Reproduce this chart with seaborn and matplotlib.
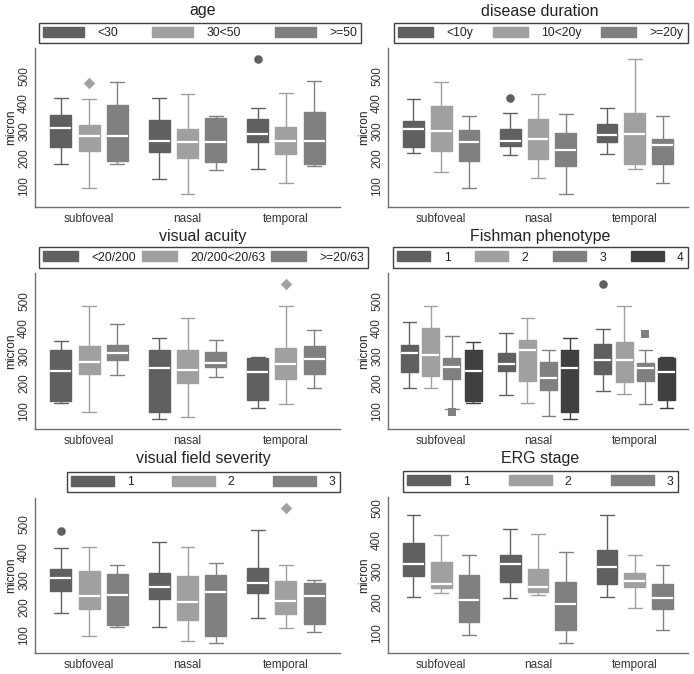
import matplotlib
matplotlib.use("Agg")
import matplotlib.pyplot as plt
from matplotlib.patches import Patch
import pandas as pd
import seaborn as sns

W, H = 694, 674

LOCATIONS = ["subfoveal", "nasal", "temporal"]
GRAYS = ["#606060", "#a0a0a0", "#808080", "#404040"]
MARKERS = ["o", "D", "s", "^"]
MARKER_SIZES = [38, 34, 30, 30]

# box stats: one row per group, columns follow LOCATIONS
AGE_LEVELS = ["<30", "30<50", ">=50"]
AGE_LO = [[181, 128, 161], [95, 72, 113], [181, 157, 172]]
AGE_Q1 = [[241, 224, 259], [228, 201, 217], [191, 187, 179]]
AGE_MED = [[312, 265, 289], [283, 261, 263], [281, 261, 265]]
AGE_Q3 = [[357, 341, 345], [320, 307, 313], [393, 348, 370]]
AGE_HI = [[420, 420, 382], [416, 433, 437], [478, 353, 480]]
AGE_OUT = [("temporal", "<30", 559), ("subfoveal", "30<50", 475)]

DUR_LEVELS = ["<10y", "10<20y", ">=20y"]
DUR_LO = [[219, 212, 216], [153, 129, 161], [95, 72, 113]]
DUR_Q1 = [[243, 246, 260], [229, 198, 182], [191, 172, 179]]
DUR_MED = [[307, 265, 286], [299, 271, 288], [261, 232, 248]]
DUR_Q3 = [[335, 307, 325], [392, 343, 366], [302, 294, 272]]
DUR_HI = [[414, 366, 382], [478, 433, 559], [353, 360, 354]]
DUR_OUT = [("nasal", "<10y", 420)]

VA_LEVELS = ["<20/200", "20/200<20/63", ">=20/63"]
VA_LO = [[129, 72, 112], [98, 79, 125], [230, 224, 182]]
VA_Q1 = [[136, 98, 140], [235, 200, 215], [285, 260, 234]]
VA_MED = [[245, 257, 241], [279, 250, 272], [311, 275, 289]]
VA_Q3 = [[321, 320, 291], [336, 320, 327], [339, 315, 334]]
VA_HI = [[353, 363, 296], [479, 436, 481], [417, 356, 395]]
VA_OUT = [("temporal", "20/200<20/63", 560)]

FISH_LEVELS = ["1", "2", "3", "4"]
FISH_LO = [[182, 157, 171], [182, 129, 163], [108, 81, 125], [129, 72, 112]]
FISH_Q1 = [[240, 244, 234], [228, 208, 205], [216, 177, 210], [136, 98, 140]]
FISH_MED = [[309, 269, 286], [303, 320, 285], [260, 220, 257], [246, 255, 243]]
FISH_Q3 = [[339, 309, 344], [402, 359, 349], [293, 279, 275], [321, 320, 291]]
FISH_HI = [[421, 383, 396], [479, 436, 481], [373, 320, 320], [350, 363, 296]]
FISH_OUT = [("temporal", "1", 560), ("subfoveal", "3", 95), ("temporal", "3", 378)]

VF_LEVELS = ["1", "2", "3"]
VF_LO = [[179, 129, 161], [95, 79, 125], [129, 71, 112]]
VF_Q1 = [[259, 232, 253], [193, 155, 177], [136, 98, 141]]
VF_MED = [[305, 273, 287], [241, 220, 225], [245, 255, 242]]
VF_Q3 = [[340, 324, 343], [330, 312, 294], [320, 318, 290]]
VF_HI = [[414, 435, 480], [420, 420, 352], [352, 361, 298]]
VF_OUT = [("subfoveal", "1", 477), ("temporal", "2", 558)]

ERG_LEVELS = ["1", "2", "3"]
ERG_LO = [[218, 213, 215], [229, 222, 182], [94, 69, 112]]
ERG_Q1 = [[284, 264, 257], [245, 231, 247], [135, 110, 178]]
ERG_MED = [[322, 322, 312], [259, 250, 269], [207, 195, 212]]
ERG_Q3 = [[391, 350, 366], [329, 305, 294], [287, 265, 259]]
ERG_HI = [[479, 433, 480], [414, 420, 351], [352, 361, 319]]
ERG_OUT = []


def px_rect(x0, y0, x1, y1):
    return [x0 / W, 1 - y1 / H, (x1 - x0) / W, (y1 - y0) / H]


def box_frame(levels, lo, q1, med, q3, hi):
    # five values per box give exactly these quartiles and whisker ends
    rows = []
    for g, level in enumerate(levels):
        for k, loc in enumerate(LOCATIONS):
            for v in (lo[g][k], q1[g][k], med[g][k], q3[g][k], hi[g][k]):
                rows.append({"location": loc, "group": level, "micron": v})
    return pd.DataFrame(rows)


def draw_panel(fig, rect, ylim, title, title_xy, legend_rect, handlelen,
               levels, stats, outliers):
    ax = fig.add_axes(px_rect(*rect))
    n = len(levels)
    palette = GRAYS[:n]
    df = box_frame(levels, *stats)
    sns.boxplot(data=df, x="location", y="micron", hue="group",
                order=LOCATIONS, hue_order=levels, palette=palette,
                saturation=1, width=0.86 if n == 3 else 0.88,
                gap=0.25 if n == 3 else 0.2, whis=(0, 100),
                linewidth=1, legend=False, ax=ax)

    for container, color in zip(ax.containers, palette):
        for box in container.boxes:
            box.set_edgecolor(color)
        for line in container.whiskers:
            line.set_color(color)
        for line in container.caps:
            line.set_color(color)
            c = sum(line.get_xdata()) / 2
            line.set_xdata([c - 0.07, c + 0.07])
        for line in container.medians:
            line.set_color("white")
            line.set_linewidth(1.6)

    for loc, level, value in outliers:
        g = levels.index(level)
        box = ax.containers[g].boxes[LOCATIONS.index(loc)]
        xs = box.get_path().vertices[:, 0]
        ax.scatter([(xs.min() + xs.max()) / 2], [value], marker=MARKERS[g],
                   s=MARKER_SIZES[g], color=palette[g], linewidths=0, zorder=4)

    ax.set_xlim(-0.55, 2.55)
    ax.set_ylim(*ylim)
    ax.set_yticks([100, 200, 300, 400, 500])
    ax.set_xlabel("")
    ax.set_ylabel("micron", fontsize=8.5, color="#222222", labelpad=1)
    ax.tick_params(axis="y", labelrotation=90, length=0, pad=3.5,
                   labelsize=8.5, labelcolor="#333333")
    for lbl in ax.get_yticklabels():
        lbl.set_va("center")
    ax.tick_params(axis="x", length=0, pad=4, labelsize=8.5,
                   labelcolor="#333333")
    sns.despine(ax=ax)
    for side in ("left", "bottom"):
        ax.spines[side].set_color("#707070")
        ax.spines[side].set_linewidth(1)

    fig.text(title_xy[0] / W, 1 - title_xy[1] / H, title, ha="center",
             va="center", fontsize=11.5, color="#222222")

    handles = [Patch(facecolor=c, edgecolor=c) for c in palette]
    leg = fig.legend(handles, levels, ncol=n, mode="expand", loc="center",
                     bbox_to_anchor=px_rect(*legend_rect),
                     bbox_transform=fig.transFigure, frameon=True,
                     fancybox=False, edgecolor="#404040", framealpha=1,
                     fontsize=8.7, handlelength=handlelen, handleheight=0.9,
                     handletextpad=1.1, borderpad=0.35, borderaxespad=0,
                     columnspacing=1)
    leg.get_frame().set_linewidth(1)
    for t in leg.get_texts():
        t.set_color("#222222")
    return ax


sns.set_style("white")
plt.rcParams["font.family"] = ["Liberation Sans", "DejaVu Sans"]

fig = plt.figure(figsize=(W / 100, H / 100), dpi=100)

draw_panel(fig, (35, 48, 340, 207), (25, 600), "age", (203, 11),
           (39, 23, 361, 43), 3.4, AGE_LEVELS,
           (AGE_LO, AGE_Q1, AGE_MED, AGE_Q3, AGE_HI), AGE_OUT)
draw_panel(fig, (388, 48, 688, 207), (25, 600), "disease duration", (540, 11),
           (394, 23, 688, 43), 2.9, DUR_LEVELS,
           (DUR_LO, DUR_Q1, DUR_MED, DUR_Q3, DUR_HI), DUR_OUT)
draw_panel(fig, (35, 273, 340, 429), (35, 600), "visual acuity", (203, 236),
           (39, 247, 368, 268), 2.9, VA_LEVELS,
           (VA_LO, VA_Q1, VA_MED, VA_Q3, VA_HI), VA_OUT)
draw_panel(fig, (388, 273, 688, 429), (35, 600), "Fishman phenotype", (540, 236),
           (393, 247, 688, 268), 2.75, FISH_LEVELS,
           (FISH_LO, FISH_Q1, FISH_MED, FISH_Q3, FISH_HI), FISH_OUT)
draw_panel(fig, (35, 498, 340, 653), (35, 596), "visual field severity", (203, 459),
           (67, 472, 340, 492), 3.5, VF_LEVELS,
           (VF_LO, VF_Q1, VF_MED, VF_Q3, VF_HI), VF_OUT)
draw_panel(fig, (388, 497, 688, 653), (37, 537), "ERG stage", (540, 459),
           (403, 471, 678, 492), 3.5, ERG_LEVELS,
           (ERG_LO, ERG_Q1, ERG_MED, ERG_Q3, ERG_HI), ERG_OUT)

fig.savefig("out.png", dpi=100, facecolor="white")
